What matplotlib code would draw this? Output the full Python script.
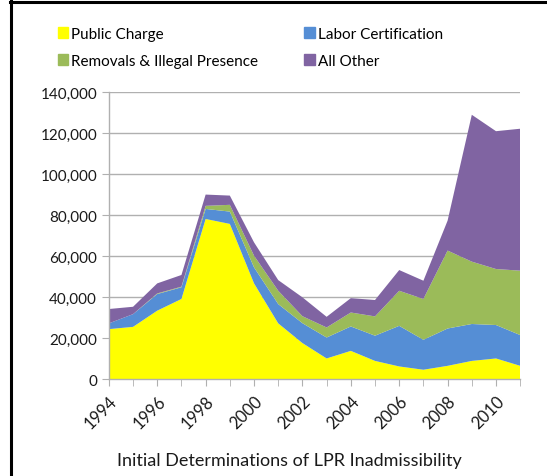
import numpy as np
import matplotlib
matplotlib.use("Agg")
import matplotlib.pyplot as plt
from matplotlib.ticker import FuncFormatter, MultipleLocator
from matplotlib.patches import Patch
from matplotlib.lines import Line2D

plt.rcParams["font.family"] = ["Lato", "DejaVu Sans"]

years = list(range(1994, 2012))
public_charge = [24.4, 25.5, 33.4, 39.1, 78.1, 75.7, 46.7, 27.2, 17.6, 10.1,
                 13.8, 8.9, 6.2, 4.6, 6.5, 8.9, 10.1, 6.5]
labor_cert = [2.8, 6.2, 8.1, 5.7, 4.9, 6.0, 7.8, 9.4, 9.7, 10.2,
              11.9, 12.3, 19.8, 14.6, 18.2, 18.0, 16.3, 15.0]
removals = [0.0, 0.0, 0.3, 0.3, 1.5, 3.3, 5.7, 6.5, 3.4, 4.9,
            6.8, 9.4, 17.1, 19.9, 38.0, 30.4, 27.3, 31.4]
all_other = [7.0, 3.6, 4.9, 5.7, 5.5, 4.5, 6.5, 5.2, 9.2, 5.2,
             7.0, 8.0, 10.1, 8.9, 14.6, 71.6, 67.2, 69.2]
series_names = ["Public Charge", "Labor Certification",
                "Removals & Illegal Presence", "All Other"]
colors = ["#FFFF00", "#558ED5", "#9BBB59", "#8064A2"]

fig = plt.figure(figsize=(5.47, 4.77), dpi=100)
ax = fig.add_axes([0.199, 0.203, 0.752, 0.602])

vals = np.array([public_charge, labor_cert, removals, all_other]) * 1000
ax.stackplot(years, vals, colors=colors, linewidth=0)

ax.set_xlim(1994, 2011)
ax.set_ylim(0, 140000)
ax.yaxis.set_major_locator(MultipleLocator(20000))
ax.yaxis.set_major_formatter(FuncFormatter(lambda v, p: f"{int(v):,}"))
ax.set_xticks(years[::2])
ax.set_xticks(years, minor=True)
ax.set_xticklabels([str(y) for y in years[::2]], rotation=45,
                   ha="right", va="top", rotation_mode="anchor")
ax.grid(axis="y", color="#B0B0B0", linewidth=1.0)
ax.set_axisbelow(True)
for s in ["top", "right"]:
    ax.spines[s].set_visible(False)
for s in ["left", "bottom"]:
    ax.spines[s].set_color("#B0B0B0")
    ax.spines[s].set_linewidth(1.0)
ax.tick_params(axis="both", which="both", color="#B0B0B0", length=5,
               labelsize=11, labelcolor="#1a1a1a")
ax.tick_params(axis="x", which="major", pad=5, labelsize=12)
ax.set_xlabel("Initial Determinations of LPR Inadmissibility", fontsize=13,
              color="#1a1a1a")
ax.xaxis.set_label_coords(0.438, -0.255)

handles = [Patch(color=colors[i]) for i in [0, 2, 1, 3]]
labels = [series_names[i] for i in [0, 2, 1, 3]]
fig.legend(handles, labels, ncol=2, loc="upper left",
           bbox_to_anchor=(0.08, 0.97), frameon=False, fontsize=11,
           handlelength=0.7, handleheight=0.7, handletextpad=0.2,
           columnspacing=3.0, labelspacing=0.85)

# border lines (left and top) like the original clipping
fig.add_artist(Line2D([0.02, 0.02], [0, 0.995], color="black", lw=2.2,
                      transform=fig.transFigure))
fig.add_artist(Line2D([0.019, 1.0], [0.994, 0.994], color="black", lw=2.2,
                      transform=fig.transFigure))

fig.savefig("out.png", dpi=100)
